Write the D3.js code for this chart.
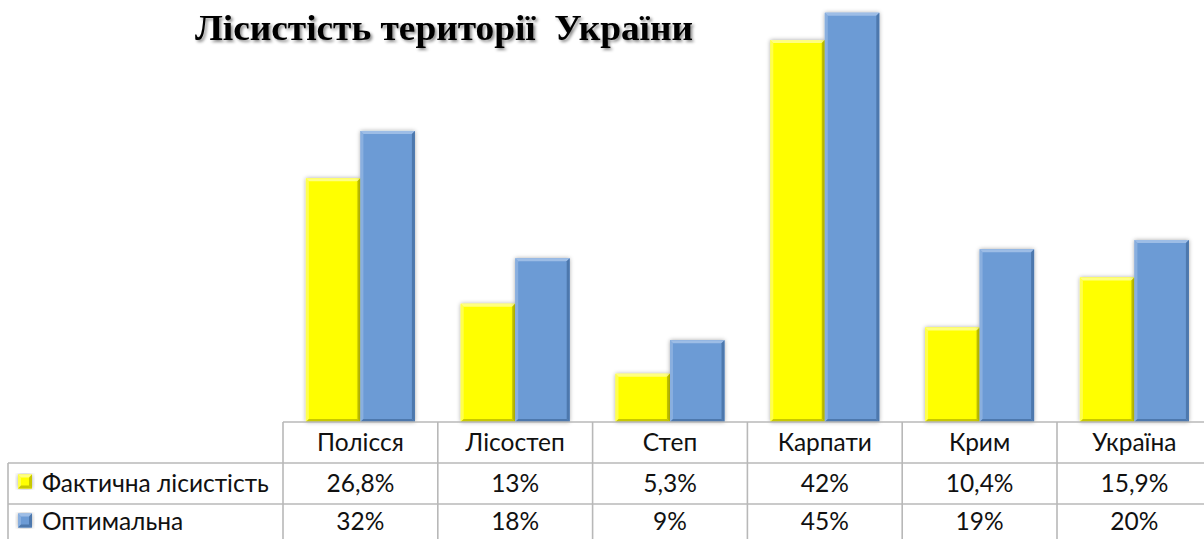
<!DOCTYPE html>
<html>
<head>
<meta charset="utf-8">
<script src="https://cdn.jsdelivr.net/npm/d3@7"></script>
<style>
  body { margin: 0; background: #fff; }
  svg { display: block; }
</style>
</head>
<body>
<div class="chart"></div>
<script>
var W = 1204, H = 539;

// data
var regions = ["Полісся", "Лісостеп", "Степ", "Карпати", "Крим", "Україна"];
var seriesNames = ["Фактична лісистість", "Оптимальна"];
var actual = [26.8, 13, 5.3, 42, 10.4, 15.9];
var optimal = [32, 18, 9, 45, 19, 20];
var actualLabels = ["26,8%", "13%", "5,3%", "42%", "10,4%", "15,9%"];
var optimalLabels = ["32%", "18%", "9%", "45%", "19%", "20%"];

var colors = {
  "Фактична лісистість": { fill: "#ffff00", light: "#ffff80", dark: "#c8c800" },
  "Оптимальна": { fill: "#6c9bd5", light: "#9dbde6", dark: "#4d78ad" }
};

var rows = regions.map(function (r, i) {
  return { region: r, values: [
    { s: seriesNames[0], v: actual[i] },
    { s: seriesNames[1], v: optimal[i] }
  ] };
});

var base = 422, colW = 154.8, left = 283;

var svg = d3.select(".chart").append("svg")
  .attr("width", W).attr("height", H);

var defs = svg.append("defs");
var f = defs.append("filter").attr("id", "shadow")
  .attr("x", "-20%").attr("y", "-10%").attr("width", "140%").attr("height", "120%");
f.append("feDropShadow").attr("dx", 0).attr("dy", 0)
  .attr("stdDeviation", 2.2).attr("flood-color", "#000").attr("flood-opacity", 0.35);

var tf = defs.append("filter").attr("id", "tshadow")
  .attr("x", "-5%").attr("y", "-20%").attr("width", "110%").attr("height", "150%");
tf.append("feDropShadow").attr("dx", 2).attr("dy", 2)
  .attr("stdDeviation", 1.5).attr("flood-color", "#000").attr("flood-opacity", 0.45);

var x = d3.scaleBand().domain(regions)
  .range([left, left + colW * regions.length]).padding(0);
var xs = d3.scaleBand().domain(seriesNames)
  .range([0, x.bandwidth()]).paddingInner(0).paddingOuter(0.42);
var y = d3.scaleLinear().domain([0, 46.4]).range([base, 0]);

// title
svg.append("text")
  .attr("x", 195).attr("y", 40)
  .attr("font-family", "Liberation Serif, Times New Roman, serif")
  .attr("font-weight", "bold")
  .attr("font-size", 35)
  .attr("textLength", 498).attr("lengthAdjust", "spacingAndGlyphs")
  .attr("fill", "#000")
  .attr("filter", "url(#tshadow)")
  .style("white-space", "pre")
  .text("Лісистість території  України");

// bars with a bevel look
var groups = svg.selectAll("g.cat").data(rows).enter().append("g")
  .attr("class", "cat")
  .attr("transform", function (d) { return "translate(" + x(d.region) + ",0)"; });

var bars = groups.selectAll("g.bar").data(function (d) { return d.values; })
  .enter().append("g").attr("class", "bar");

function bevel(g, bx, by, bw, bh, c) {
  var e = Math.min(3, bh / 2);
  g.append("rect").attr("x", bx).attr("y", by).attr("width", bw).attr("height", bh)
    .attr("fill", c.fill).attr("filter", "url(#shadow)");
  g.append("polygon")
    .attr("points", [[bx, by], [bx + bw, by], [bx + bw - e, by + e], [bx + e, by + e]].join(" "))
    .attr("fill", c.light);
  g.append("polygon")
    .attr("points", [[bx, by], [bx + e, by + e], [bx + e, by + bh - e], [bx, by + bh]].join(" "))
    .attr("fill", c.light).attr("opacity", 0.6);
  g.append("polygon")
    .attr("points", [[bx + bw, by], [bx + bw, by + bh], [bx + bw - e, by + bh - e], [bx + bw - e, by + e]].join(" "))
    .attr("fill", c.dark);
  g.append("polygon")
    .attr("points", [[bx, by + bh], [bx + bw, by + bh], [bx + bw - e, by + bh - e], [bx + e, by + bh - e]].join(" "))
    .attr("fill", c.dark);
}

bars.each(function (d) {
  var bx = xs(d.s), by = y(d.v);
  bevel(d3.select(this), bx, by, xs.bandwidth(), base - by, colors[d.s]);
});

// data table
var grid = svg.append("g").attr("stroke", "#b8b8b8").attr("stroke-width", 1.6);
grid.append("line").attr("x1", left).attr("x2", W).attr("y1", base).attr("y2", base);
[463, 504].forEach(function (yy) {
  grid.append("line").attr("x1", 8).attr("x2", W).attr("y1", yy).attr("y2", yy);
});
grid.append("line").attr("x1", 8).attr("x2", 8).attr("y1", 463).attr("y2", H);
regions.forEach(function (r) {
  grid.append("line").attr("x1", x(r)).attr("x2", x(r)).attr("y1", base).attr("y2", H);
});

var font = "Lato, Calibri, sans-serif";
var fs = 24.5;
var cellText = svg.append("g")
  .attr("font-family", font).attr("font-size", fs).attr("fill", "#111")
  .attr("text-anchor", "middle");

cellText.selectAll("text.head").data(regions).enter().append("text")
  .attr("x", function (d) { return x(d) + colW / 2; })
  .attr("y", 451).text(function (d) { return d; });
cellText.selectAll("text.a").data(actualLabels).enter().append("text")
  .attr("x", function (d, i) { return x(regions[i]) + colW / 2; })
  .attr("y", 492).text(function (d) { return d; });
cellText.selectAll("text.o").data(optimalLabels).enter().append("text")
  .attr("x", function (d, i) { return x(regions[i]) + colW / 2; })
  .attr("y", 530).text(function (d) { return d; });

// legend keys in the row headers
var legY = [475, 514];
seriesNames.forEach(function (s, i) {
  var g = svg.append("g");
  bevel(g, 18, legY[i] - 0.5, 14, 14, colors[s]);
  svg.append("text").attr("x", 42).attr("y", [492, 530][i])
    .attr("font-family", font).attr("font-size", fs).attr("fill", "#111")
    .text(s);
});
</script>
</body>
</html>
